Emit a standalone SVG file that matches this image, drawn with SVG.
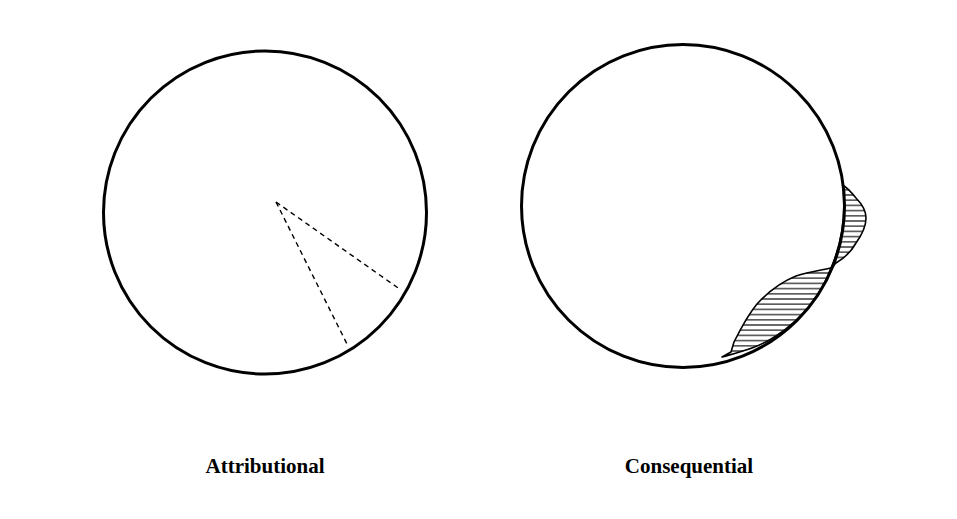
<svg xmlns="http://www.w3.org/2000/svg" width="957" height="519" viewBox="0 0 957 519">
<style>
.circ{fill:none;stroke:#000;stroke-width:3}
.dash{fill:none;stroke:#000;stroke-width:1.4;stroke-dasharray:5 4}
.hatch{fill:url(#hp);stroke:#000;stroke-width:1.6;stroke-linejoin:round}
.lbl{font-family:"Liberation Serif","DejaVu Serif",serif;font-size:21px;font-weight:bold;text-anchor:middle;fill:#000}
</style>
<defs>
<pattern id="hp" patternUnits="userSpaceOnUse" width="10" height="5.2">
<rect width="10" height="5.2" fill="#fff"/>
<line x1="0" y1="2.6" x2="10" y2="2.6" stroke="#000" stroke-width="1.1"/>
</pattern>
</defs>
<rect width="957" height="519" fill="#fff"/>
<g id="attributional">
<circle class="circ" cx="265" cy="212.5" r="161.5"/>
<g id="attributional-wedge">
<line class="dash" x1="276" y1="202" x2="401" y2="290"/>
<line class="dash" x1="276" y1="202" x2="348" y2="346"/>
</g>
<text class="lbl" x="265" y="473">Attributional</text>
</g>
<g id="consequential">
<g id="consequential-hatch">
<path class="hatch" d="M842.6,185 C848,188 852,193 856,198 C861,203 866,210 866,218 C866,228 861,236 856,243 C851,252 843,259 836,263 L831,268 A161,161 0 0 0 842.6,185 Z"/>
<path class="hatch" d="M831,268 C822,270 808,272 796,276 C781,282 768,292 757,304 C747,316 740,330 734,342 L731,352 L722,357 C740,352 758,348 776,336 C800,320 820,298 831,268 Z"/>
</g>
<circle class="circ" cx="683" cy="206" r="161.5"/>
<text class="lbl" x="689" y="473">Consequential</text>
</g>
</svg>
